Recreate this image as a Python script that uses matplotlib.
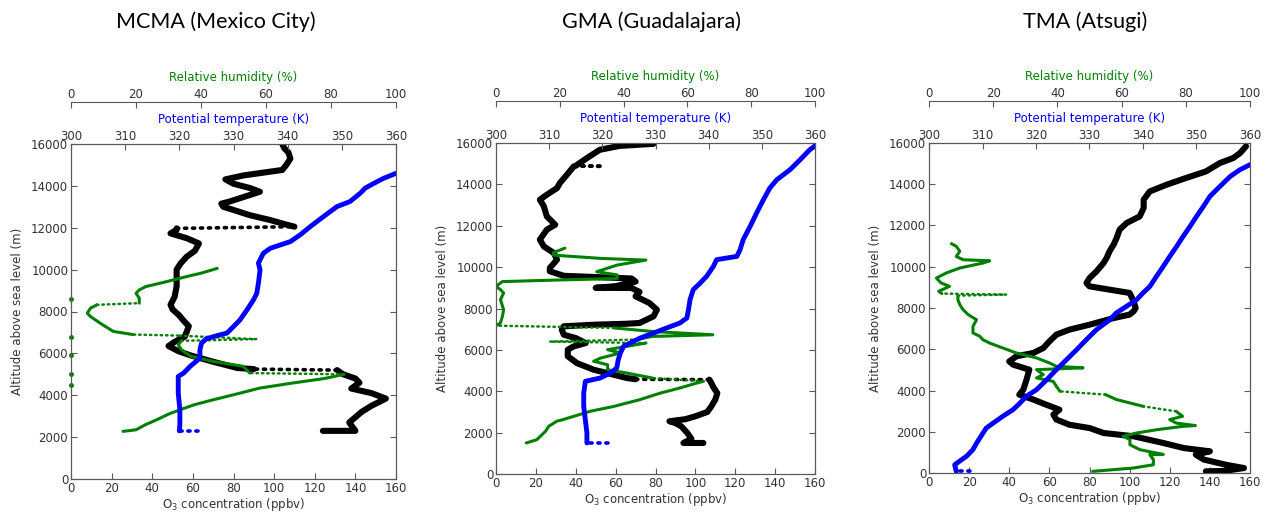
import numpy as np
import matplotlib
matplotlib.use("Agg")
import matplotlib.pyplot as plt

# ---- sounding profiles: altitude (m) and value, bottom to top ----
# "gaps" hold indices k where the step k -> k+1 is a sparse, dotted jump

# MCMA (Mexico City)
mcma_o3_alt = [2300, 2300, 2700, 3200, 3500, 3840, 4100, 4320, 4600, 4800, 5000, 5200,
               5250, 5300, 5600, 5900, 6100, 6350, 6550, 6800, 7040, 7300, 7500, 7840,
               8100, 8320, 8700, 9200, 9600, 10000, 10300, 10620, 10900, 11250, 11500,
               11730, 11900, 11970, 12050, 12150, 12370, 12600, 12850, 13000, 13150,
               13250, 13500, 13720, 13900, 14100, 14310, 14500, 14760, 15000, 15300,
               15600, 15800, 16000]
mcma_o3 = [124, 140, 137, 143, 148, 155, 148, 138, 142, 140, 134, 131,
           90, 82, 70, 59, 53, 48, 51, 56, 57, 58, 56, 53,
           50, 49, 51, 52, 52, 52, 54, 57, 61, 63, 57,
           49, 52, 52, 110, 106, 98, 88, 80, 75, 74,
           78, 86, 93, 88, 80, 76, 85, 104, 106, 108,
           107, 105, 104]
mcma_o3_gaps = [11, 37]

mcma_rh_alt = [2275, 2350, 2600, 2830, 3100, 3310, 3550, 3785, 4100, 4340, 4580, 4800,
               5000, 5060, 5380, 5610, 5850, 6170, 6410, 6600, 6680, 6850, 6900, 7050,
               7440, 7760, 7920, 8160, 8320, 8400, 8640, 8870, 9030, 9190, 9430, 9670,
               9830, 10060]
mcma_rh = [16, 20, 23, 26.4, 30, 33.6, 38, 43.8, 52, 58, 68, 78,
           84, 55, 53, 44, 37, 34, 33, 34, 57, 33, 19, 13,
           9, 6, 5, 6, 8, 21, 21, 20, 21, 23, 29.5, 35.6,
           40, 45]
mcma_rh_gaps = [12, 19, 20, 21, 28]
mcma_rh_zero_alt = [4500, 5000, 5900, 6800, 8600]

mcma_th_alt = [2300, 2300, 2600, 3310, 4100, 4900, 5060, 5380, 5770, 6170, 6490, 6700,
               6850, 6970, 7280, 7600, 8080, 8560, 8870, 9350, 9990, 10310, 10780,
               11020, 11340, 11660, 12060, 12530, 13010, 13250, 13650, 13890, 14120,
               14360, 14600]
mcma_th = [323.5, 320, 320.1, 320.1, 319.8, 319.8, 320.8, 322, 323.8, 323.8, 324.1, 325,
           327, 328.8, 330, 331.2, 332.5, 333.7, 334.3, 334.6, 334.9, 334.6, 335.5,
           336.8, 340.5, 342.3, 344.2, 346.6, 349.1, 351.5, 353.4, 354.3, 355.9,
           357.7, 360]
mcma_th_gaps = [0]

# GMA (Guadalajara)
gma_o3_alt = [1500, 1500, 1700, 1980, 2300, 2460, 2550, 2650, 2790, 3000, 3270, 3600,
              3910, 4200, 4400, 4560, 4580, 4640, 4800, 5040, 5360, 5690, 6010, 6170,
              6330, 6570, 6730, 6980, 7140, 7220, 7260, 7300, 7620, 7940, 8260, 8590,
              8800, 8990, 9000, 9080, 9300, 9450, 9520, 9580, 9800, 9960, 10360, 10680,
              11000, 11330, 11810, 12050, 12450, 12940, 13260, 13500, 13820, 14060,
              14470, 14870, 14870, 14900, 15270, 15670, 15860, 15960]
gma_o3 = [104, 94, 98, 96, 93, 90, 87, 95, 100, 106, 108, 110,
          111, 109, 108, 107, 70, 65.6, 59, 49, 40.6, 36, 36, 39,
          45, 40, 34, 33, 34, 50, 65, 72, 79, 80.7, 77, 70,
          72, 68, 50, 60, 70, 68, 50, 34, 27, 27, 30.6, 29,
          24, 22, 25.5, 29.7, 25.5, 24, 22, 25.5, 30.6, 32,
          35.6, 39, 52, 40, 45.6, 52, 62, 79]
gma_o3_gaps = [15, 59, 60]

gma_rh_alt = [1500, 1660, 2060, 2300, 2550, 2630, 3030, 3270, 3590, 3910, 4160, 4400,
              4480, 4640, 4880, 5040, 5280, 5450, 5600, 5850, 6010, 6170, 6330, 6400,
              6500, 6650, 6730, 6890, 7060, 7170, 7300, 7620, 7940, 8430, 8750, 8910,
              9070, 9300, 9380, 9450, 9620, 9780, 10100, 10340, 10420, 10580, 10700,
              10920]
gma_rh = [9.5, 12.8, 15.5, 16.5, 19, 21, 29.5, 37, 45, 51.5, 57.7, 63,
          65, 49, 41, 35, 35, 30.6, 32.7, 39, 35, 41, 47, 17,
          44, 49, 68, 49, 37, 0, 1.4, 2, 2.4, 1.4, 2.4, 1.4,
          0, 2, 20, 38, 38, 31.6, 38, 47, 33, 18, 18,
          21.6]
gma_rh_gaps = [12, 22, 23, 28]

gma_th_alt = [1500, 1500, 1980, 2630, 3270, 3910, 4480, 4640, 4880, 5120, 5530, 5850,
              6170, 6330, 6570, 6810, 7060, 7300, 7540, 7940, 8430, 8910, 9230, 9550,
              10040, 10360, 10520, 10840, 11330, 11970, 12610, 13260, 13820, 14220,
              14710, 15190, 15670, 15860]
gma_th = [321, 317.1, 317.1, 316.8, 316.5, 316.5, 316.8, 319.6, 321.5, 322.7, 323, 323.4,
          324, 325.2, 327.1, 329.6, 332.1, 334.6, 335.9, 336.2, 336.5, 337.1, 338.4, 339.6,
          340.9, 341.5, 345.3, 345.9, 346.5, 347.8, 349, 350.3, 351.5, 352.8,
          355.3, 357.2, 359, 360]
gma_th_gaps = [0]

# TMA (Atsugi)
tma_o3_alt = [80, 100, 240, 400, 650, 890, 1050, 1210, 1450, 1780, 1940, 2180, 2340,
              2590, 2830, 3070, 3310, 3560, 3800, 4040, 4520, 5010, 5250, 5410, 5660,
              5820, 6060, 6380, 6710, 6950, 7190, 7510, 7680, 7840, 8000, 8320, 8730,
              8890, 9050, 9210, 9450, 9780, 10180, 10420, 10750, 11070, 11390, 11800,
              12120, 12440, 12850, 13250, 13650, 13980, 14300, 14620, 15030, 15270,
              15510, 15840]
tma_o3 = [138, 147, 157, 148, 137, 133, 140, 127, 117, 102, 87, 80, 70,
          63.5, 62, 65, 58.5, 52, 45, 47, 48.6, 50, 42, 40, 43.6,
          52, 57, 60, 63.5, 70, 80, 92, 100, 102, 103, 102, 100,
          90, 80, 78.5, 80, 83.5, 87, 88.5, 90, 92, 93.5, 95,
          98.5, 105, 107, 107, 110, 118.5, 128, 138, 145, 151.6,
          155, 158]
tma_o3_gaps = []

tma_rh_alt = [80, 240, 400, 650, 890, 900, 1130, 1370, 1620, 1780, 1940, 2100, 2260,
              2300, 2420, 2590, 2750, 2990, 3230, 3560, 3800, 3960, 4200, 4440, 4610,
              4770, 5010, 5100, 5170, 5330, 5580, 5820, 6060, 6300, 6460, 6630, 6790,
              7110, 7430, 7680, 7920, 8160, 8400, 8600, 8650, 8700, 8810, 9050, 9210,
              9450, 9700, 9940, 10180, 10290, 10340, 10500, 10750, 10990, 11120]
tma_rh = [51, 63.6, 69.9, 69.9, 68.8, 73, 65.7, 62.6, 62.6, 60.5, 64.7, 71, 79,
          83, 77, 75, 79, 77, 66.8, 58.4, 55, 40.8, 39.7, 38.7, 33.5,
          35.6, 33.5, 48, 39.7, 37.6, 33.5, 27.2, 23, 18.9, 16.8, 15.8, 13.7,
          13.7, 14.8, 12.2, 10.6, 9.6, 9, 9, 24, 4, 3, 6.4, 3.8,
          2.3, 5.4, 9.6, 16.8, 18.9, 10.6, 8.5, 9.6, 8.5, 7]
tma_rh_gaps = [17, 20, 43, 44]

tma_th_alt = [80, 80, 400, 570, 810, 1130, 1450, 1940, 2180, 2420, 2750, 3070, 3390,
              3720, 4040, 4520, 5010, 5490, 5980, 6460, 6950, 7430, 7760, 8080, 8400,
              8730, 9050, 9530, 10020, 10500, 10990, 11470, 11960, 12440, 12930, 13410,
              13900, 14380, 14700, 14950]
tma_th = [307.6, 305.1, 304.8, 305.7, 307, 308.2, 308.9, 310.1, 310.7, 312, 313.8, 315.7, 317,
          318.2, 320.1, 322, 323.8, 325.7, 327.6, 329.4, 331.3, 333.8, 335, 336.9, 338.8,
          340, 341.3, 342.5, 343.8, 345, 346.3, 347.5, 348.8, 350, 351.3, 352.5,
          354.4, 356.3, 358.1, 360]
tma_th_gaps = [0]

titles = ["MCMA (Mexico City)", "GMA (Guadalajara)", "TMA (Atsugi)"]
title_x = [216, 652, 1085]

panels = [
    dict(o3=(mcma_o3_alt, mcma_o3, mcma_o3_gaps), rh=(mcma_rh_alt, mcma_rh, mcma_rh_gaps),
         th=(mcma_th_alt, mcma_th, mcma_th_gaps), rh0=mcma_rh_zero_alt,
         box=[71, 144, 325, 335]),
    dict(o3=(gma_o3_alt, gma_o3, gma_o3_gaps), rh=(gma_rh_alt, gma_rh, gma_rh_gaps),
         th=(gma_th_alt, gma_th, gma_th_gaps), rh0=[],
         box=[496, 143, 319, 331]),
    dict(o3=(tma_o3_alt, tma_o3, tma_o3_gaps), rh=(tma_rh_alt, tma_rh, tma_rh_gaps),
         th=(tma_th_alt, tma_th, tma_th_gaps), rh0=[],
         box=[929, 143, 321, 330]),
]

W, H = 1272, 515
fig = plt.figure(figsize=(W / 100, H / 100), dpi=100)

SPINE = "0.35"
TXT = "0.2"


def draw_profile(ax, prof, color, lw):
    alt, val, gaps = prof
    alt = np.asarray(alt, float)
    val = np.asarray(val, float)
    start = 0
    for g in sorted(gaps) + [len(alt) - 1]:
        ax.plot(val[start:g + 1], alt[start:g + 1], color=color, lw=lw,
                solid_capstyle="round", solid_joinstyle="round")
        if g < len(alt) - 1:
            ax.plot(val[g:g + 2], alt[g:g + 2], color=color, lw=min(lw * 0.8, 2.6),
                    ls=(0, (0.6, 1.6)), dash_capstyle="round")
        start = g + 1


def style_axis(a):
    for s in a.spines.values():
        s.set_color(SPINE)
    a.tick_params(direction="in", colors=SPINE, labelcolor=TXT, labelsize=8.5,
                  length=4, width=0.8)


for p, title, tx in zip(panels, titles, title_x):
    x0, y0, w, h = p["box"]
    ax = fig.add_axes([x0 / W, 1 - (y0 + h) / H, w / W, h / H])
    ax_rh = ax.twiny()
    ax_th = ax.twiny()

    draw_profile(ax, p["o3"], "black", 4.4)
    draw_profile(ax_rh, p["rh"], "green", 2.2)
    if p["rh0"]:
        ax_rh.plot(np.zeros(len(p["rh0"])), p["rh0"], "o", color="green", ms=2.5,
                   clip_on=False)
    draw_profile(ax_th, p["th"], "blue", 3.5)

    ax.set_xlim(0, 160)
    ax.set_ylim(0, 16000)
    ax.set_xticks(np.arange(0, 161, 20))
    ax.set_yticks(np.arange(0, 16001, 2000))
    ax.tick_params(right=True)
    ax.set_xlabel("O$_3$ concentration (ppbv)", fontsize=8.5, color=TXT, labelpad=1)
    ax.set_ylabel("Altitude above sea level (m)", fontsize=8.5, color=TXT, labelpad=5)

    ax_th.set_xlim(300, 360)
    ax_th.set_xticks(np.arange(300, 361, 10))
    ax_th.set_xlabel("Potential temperature (K)", fontsize=8.5, color="blue", labelpad=5)

    ax_rh.set_xlim(0, 100)
    ax_rh.set_xticks(np.arange(0, 101, 20))
    # 42 px above the plot frame
    ax_rh.spines["top"].set_position(("outward", 42 * 0.72))
    for s in ["left", "right", "bottom"]:
        ax_rh.spines[s].set_visible(False)
    ax_rh.set_xlabel("Relative humidity (%)", fontsize=8.5, color="green", labelpad=5)

    for a in (ax, ax_th, ax_rh):
        style_axis(a)
    ax_th.tick_params(axis="x", pad=1)
    ax_rh.tick_params(axis="x", pad=1)
    ax.tick_params(axis="both", pad=2)

    fig.text(tx / W, 1 - 22 / H, title, ha="center", va="center",
             fontsize=15.5, family="Lato", color="black")

fig.savefig("out.png", dpi=100)
